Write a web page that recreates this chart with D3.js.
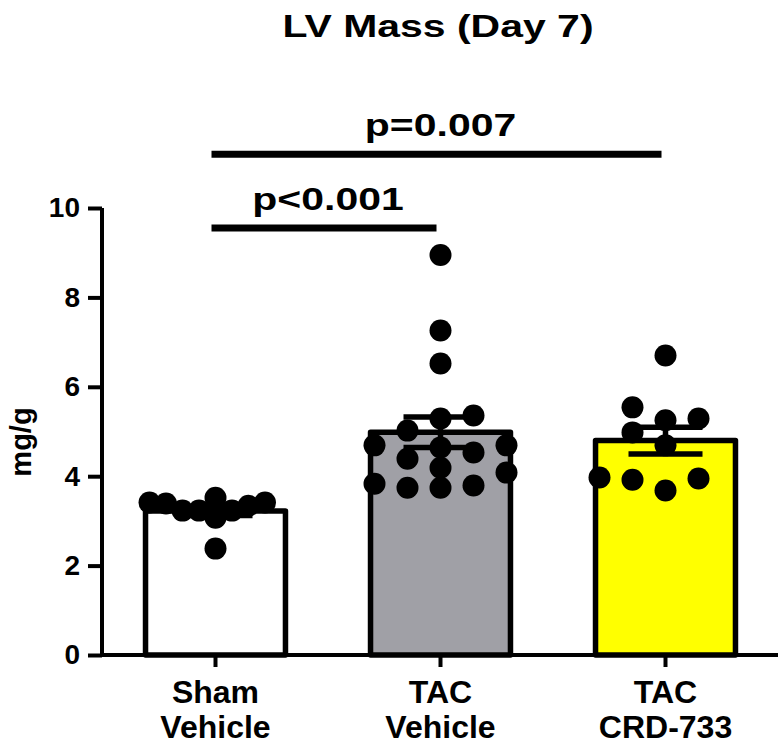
<!DOCTYPE html>
<html>
<head>
<meta charset="utf-8">
<script src="https://cdn.jsdelivr.net/npm/d3@7"></script>
<style>
  html, body { margin: 0; padding: 0; background: #fff; }
  svg { display: block; font-family: "Liberation Sans", Arial, Helvetica, sans-serif; font-weight: bold; }
</style>
</head>
<body>
<svg id="chart" width="780" height="746"></svg>
<script>
// ---- data ----
const title = "LV Mass (Day 7)";
const yLabel = "mg/g";
const categories = ["Sham Vehicle", "TAC Vehicle", "TAC CRD-733"];
const categoryLines = [["Sham", "Vehicle"], ["TAC", "Vehicle"], ["TAC", "CRD-733"]];
const barColors = ["#ffffff", "#a0a0a6", "#ffff00"];
const shamVehicle = [3.41, 3.23, 3.41, 3.23, 3.52, 3.07, 3.23, 3.34, 3.39, 2.38];
const tacVehicle = [8.95, 7.26, 6.52, 5.36, 5.29, 5.02, 4.69, 4.53, 4.39, 4.64, 4.69, 4.08, 4.19, 3.74, 3.79, 3.83, 3.74];
const tacCrd733 = [6.70, 5.25, 5.29, 5.54, 4.98, 4.69, 3.68, 3.97, 3.92, 3.95];
const yTicks = [0, 2, 4, 6, 8, 10];
const comparisons = [
  { from: "Sham Vehicle", to: "TAC CRD-733", label: "p=0.007", level: 11.2 },
  { from: "Sham Vehicle", to: "TAC Vehicle", label: "p<0.001", level: 9.55 }
];

const groups = [shamVehicle, tacVehicle, tacCrd733];
const stats = groups.map((vals, i) => {
  const m = d3.mean(vals);
  const sem = d3.deviation(vals) / Math.sqrt(vals.length);
  return { cat: categories[i], mean: m, sem: sem, values: vals, color: barColors[i] };
});

// ---- layout ----
const svg = d3.select("#chart");
const x = d3.scaleBand().domain(categories).range([103, 778]).paddingInner(0.378).paddingOuter(0.189);
const y = d3.scaleLinear().domain([0, 10]).range([655, 208]);
const R = 11;

// beeswarm (slot-based)
function swarm(vals) {
  const H = 66;
  const sorted = vals.map(v => ({ v, py: y(v) })).sort((a, b) => a.v - b.v);
  for (let K = 2; K <= 4; K++) {
    const slots = [0];
    for (let k = 1; k <= K; k++) { slots.push(-k, k); }
    const placed = new Map(slots.map(s => [s, []]));
    let forced = false;
    const out = [];
    sorted.forEach(p => {
      let best = null, bestClear = -1;
      for (const s of slots) {
        const ys = placed.get(s);
        const clear = ys.length ? d3.min(ys, q => Math.abs(q - p.py)) : Infinity;
        if (clear >= 18) { best = s; bestClear = Infinity; break; }
        if (clear > bestClear) { bestClear = clear; best = s; }
      }
      if (bestClear !== Infinity) forced = true;
      placed.get(best).push(p.py);
      out.push({ v: p.v, slot: best, step: H / K });
    });
    if (!forced || K === 4) return out;
  }
}

// bars
svg.append("g").selectAll("rect").data(stats).join("rect")
  .attr("x", d => x(d.cat))
  .attr("width", x.bandwidth())
  .attr("y", d => y(d.mean))
  .attr("height", d => y(0) - y(d.mean))
  .attr("fill", d => d.color)
  .attr("stroke", "#000")
  .attr("stroke-width", 5.5)
  .attr("stroke-linejoin", "round");

// error bars
const eb = svg.append("g").attr("stroke", "#000").attr("stroke-width", 5.5);
stats.forEach(d => {
  const cx = x(d.cat) + x.bandwidth() / 2;
  eb.append("line").attr("x1", cx).attr("x2", cx).attr("y1", y(d.mean + d.sem)).attr("y2", y(d.mean - d.sem));
  eb.append("line").attr("x1", cx - 37).attr("x2", cx + 37).attr("y1", y(d.mean + d.sem)).attr("y2", y(d.mean + d.sem));
  eb.append("line").attr("x1", cx - 37).attr("x2", cx + 37).attr("y1", y(d.mean - d.sem)).attr("y2", y(d.mean - d.sem));
});

// points
const pts = svg.append("g");
stats.forEach(d => {
  const cx = x(d.cat) + x.bandwidth() / 2;
  pts.selectAll(null).data(swarm(d.values)).join("circle")
    .attr("cx", p => cx + p.slot * p.step)
    .attr("cy", p => y(p.v))
    .attr("r", R)
    .attr("fill", "#000");
});

// y axis
const yAxis = svg.append("g").attr("transform", "translate(102,0)")
  .call(d3.axisLeft(y).tickValues(yTicks).tickSize(14).tickPadding(8).tickFormat(d3.format("d")));
yAxis.select(".domain").attr("stroke", "#000").attr("stroke-width", 4).attr("d", `M0,${y(0)}V${y(10)}`);
yAxis.selectAll(".tick line").attr("stroke", "#000").attr("stroke-width", 4);
yAxis.selectAll(".tick text").attr("font-size", 28).attr("font-weight", "bold")
  .attr("font-family", '"Liberation Sans", Arial, sans-serif').attr("fill", "#000");

// x axis
const xAxis = svg.append("g").attr("transform", `translate(0,${y(0)})`)
  .call(d3.axisBottom(x).tickSize(12).tickFormat(""));
xAxis.select(".domain").attr("stroke", "#000").attr("stroke-width", 4).attr("d", "M100,0H778");
xAxis.selectAll(".tick line").attr("stroke", "#000").attr("stroke-width", 4);
const xl = svg.append("g").attr("font-size", 32).attr("text-anchor", "middle");
categories.forEach((c, i) => {
  const cx = x(c) + x.bandwidth() / 2;
  categoryLines[i].forEach((ln, j) => {
    xl.append("text").attr("x", cx).attr("y", 703 + j * 35).text(ln);
  });
});

// y label
svg.append("text").attr("transform", "translate(31,442) rotate(-90)")
  .attr("text-anchor", "middle").attr("font-size", 29).text(yLabel);

// title
svg.append("text").attr("transform", "translate(438,37) scale(1.28,1)")
  .attr("text-anchor", "middle").attr("font-size", 32).text(title);

// significance bars
comparisons.forEach(c => {
  const x1 = x(c.from) + x.bandwidth() / 2 - 4;
  const x2 = x(c.to) + x.bandwidth() / 2 - 4;
  const ly = y(c.level);
  svg.append("line").attr("x1", x1).attr("x2", x2).attr("y1", ly).attr("y2", ly)
    .attr("stroke", "#000").attr("stroke-width", 7);
  svg.append("text").attr("transform", `translate(${(x1 + x2) / 2 + 4},${ly - 18}) scale(1.28,1)`)
    .attr("text-anchor", "middle").attr("font-size", 32).text(c.label);
});
</script>
</body>
</html>
